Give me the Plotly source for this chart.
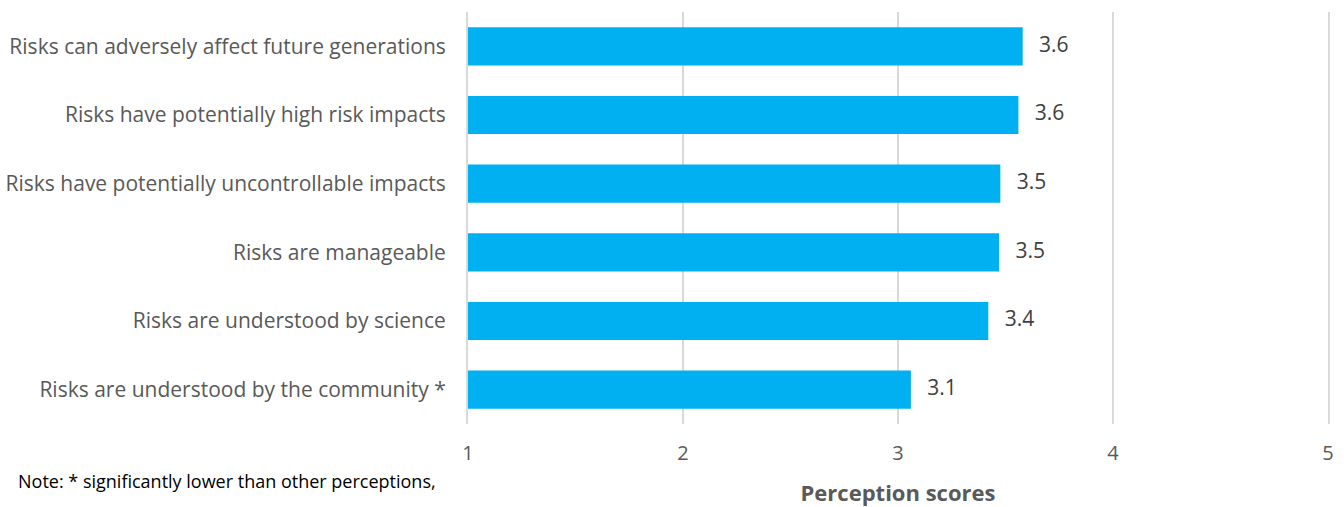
import plotly.graph_objects as go

categories = [
    "Risks can adversely affect future generations",
    "Risks have potentially high risk impacts",
    "Risks have potentially uncontrollable impacts",
    "Risks are manageable",
    "Risks are understood by science",
    "Risks are understood by the community *",
]
scores = [3.58, 3.56, 3.476, 3.47, 3.42, 3.06]
labels = [f"{v:.1f}" for v in scores]
x_ticks = [1, 2, 3, 4, 5]

FONT = "Open Sans"
GREY = "#595959"

fig = go.Figure()
fig.add_trace(go.Bar(
    y=categories, x=[v - 1 for v in scores], base=1, orientation="h",
    marker=dict(color="#00B0F0", line=dict(width=0)),
    hoverinfo="skip",
))
fig.add_trace(go.Scatter(
    y=categories, x=scores, mode="text", text=labels,
    textposition="middle right",
    textfont=dict(family=FONT, size=21, color="#404040"),
    hoverinfo="skip",
))
fig.update_traces(selector=dict(type="scatter"), texttemplate="   %{text}")

fig.update_layout(
    width=1344, height=507,
    margin=dict(l=468, r=16, t=12, b=83),
    paper_bgcolor="white", plot_bgcolor="white",
    showlegend=False, bargap=0.443,
    font=dict(family=FONT, color=GREY),
    xaxis=dict(
        range=[1, 5], tickvals=x_ticks, showgrid=True, automargin=False,
        gridcolor="#d9d9d9", gridwidth=1.5, zeroline=False, showline=False,
        tickfont=dict(family=FONT, size=20, color=GREY), ticks="",
        ticklabelstandoff=15,
        title=dict(text="<b>Perception scores</b>",
                   font=dict(family=FONT, size=22, color=GREY), standoff=21),
    ),
    yaxis=dict(
        categoryorder="array", categoryarray=categories[::-1],
        showgrid=False, zeroline=False, automargin=False,
        showline=True, mirror=True, linecolor="#d9d9d9", linewidth=2,
        ticks="",
        tickfont=dict(family=FONT, size=21, color=GREY),
        ticklabelstandoff=16,
    ),
)
fig.add_annotation(
    text="Note: * significantly lower than other perceptions,",
    xref="paper", yref="paper", x=-(468 - 16) / 860, y=-(481 - 424) / 412,
    xanchor="left", yanchor="middle", showarrow=False,
    font=dict(family=FONT, size=18, color="#000000"),
)
fig.write_html("out.html")
